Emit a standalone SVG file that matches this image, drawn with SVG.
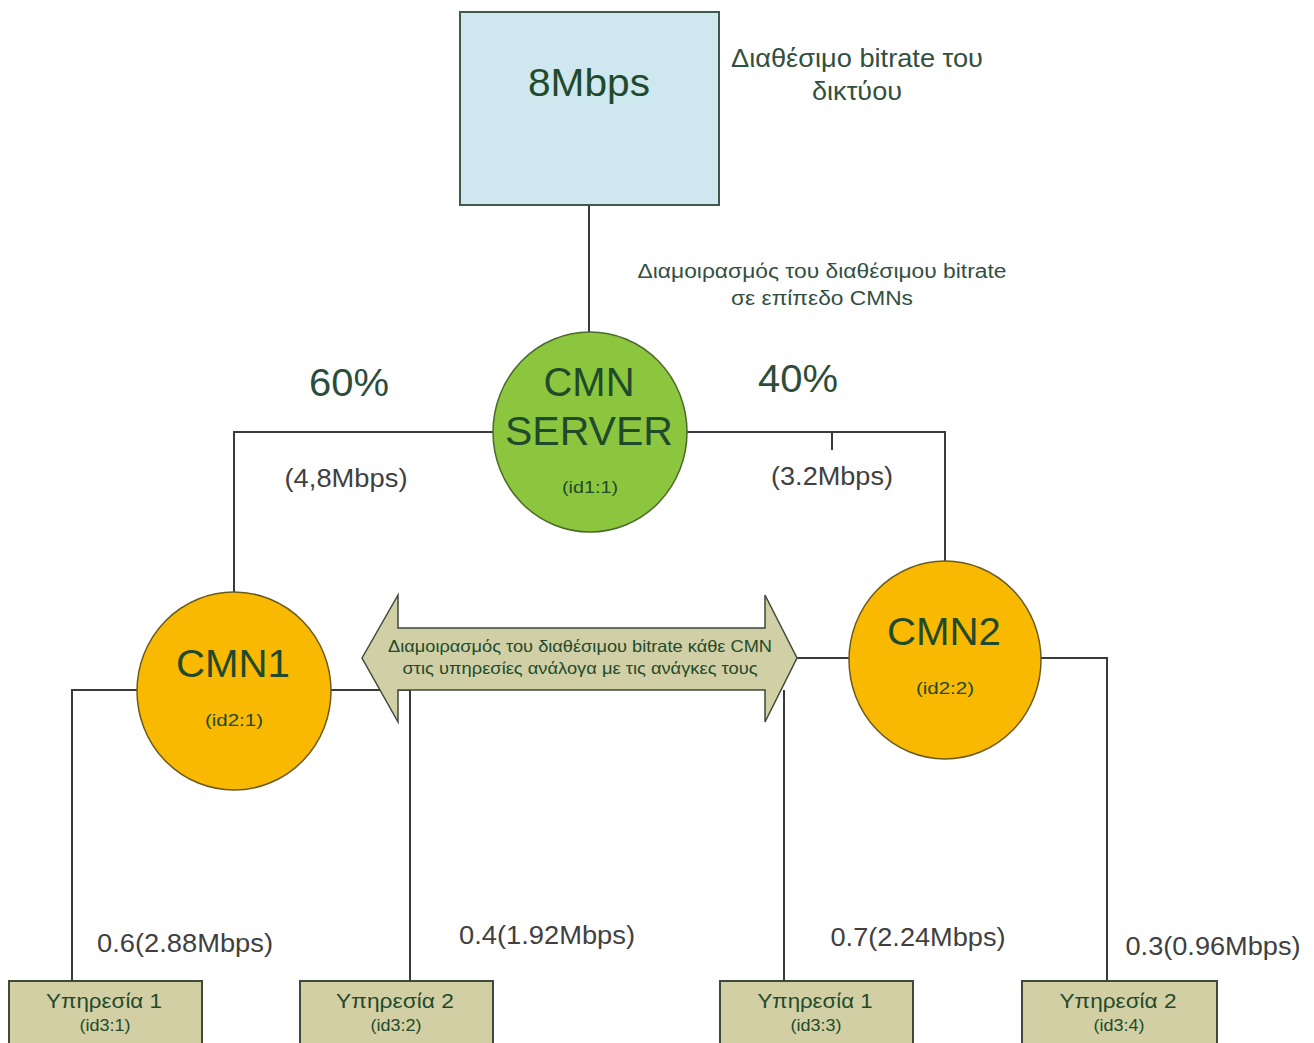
<svg xmlns="http://www.w3.org/2000/svg" width="1314" height="1043" viewBox="0 0 1314 1043">
  <style>
    text { font-family: "Liberation Sans", Arial, sans-serif; text-anchor: middle; }
    .node-text { fill: #1f4a2c; }
    .note { fill: #33503f; }
    .lbl { fill: #404040; }
    .pct { fill: #2b4d3a; }
    .wire { fill: none; stroke: #3a3a3a; stroke-width: 2; }
    .cmn { fill: #f9b900; stroke: #6b5a20; stroke-width: 1.5; }
    .svc { fill: #d3cfa4; stroke: #3f4a3a; stroke-width: 2; }
  </style>

  <rect width="1314" height="1043" fill="#ffffff"/>

  <!-- connectors -->
  <g id="connectors">
    <path class="wire" d="M589 205 V333"/>
    <path class="wire" d="M493 432 H234 V592"/>
    <path class="wire" d="M687 432 H945 V561"/>
    <path class="wire" d="M832 432 V450"/>
    <path class="wire" d="M137 690 H72 V981"/>
    <path class="wire" d="M331 690 H410 V981"/>
    <path class="wire" d="M849 658 H797"/>
    <path class="wire" d="M784 690 V981"/>
    <path class="wire" d="M1041 658 H1107 V981"/>
  </g>

  <!-- available network bitrate -->
  <g id="network">
    <rect x="460" y="12" width="259" height="193" fill="#cfe7ee" stroke="#3f5a4c" stroke-width="2"/>
    <text class="node-text" x="589" y="96" font-size="39" textLength="122" lengthAdjust="spacingAndGlyphs">8Mbps</text>
  </g>
  <g id="network-note">
    <text class="note" x="857" y="67" font-size="26" textLength="252" lengthAdjust="spacingAndGlyphs">Διαθέσιμο bitrate του</text>
    <text class="note" x="857" y="100" font-size="26" textLength="90" lengthAdjust="spacingAndGlyphs">δικτύου</text>
  </g>
  <g id="share-note">
    <text class="note" x="822" y="278" font-size="20" textLength="369" lengthAdjust="spacingAndGlyphs">Διαμοιρασμός του διαθέσιμου bitrate</text>
    <text class="note" x="822" y="305" font-size="20" textLength="182" lengthAdjust="spacingAndGlyphs">σε επίπεδο CMNs</text>
  </g>

  <!-- server -->
  <g id="cmn-server">
    <ellipse cx="590" cy="432" rx="97" ry="100" fill="#8cc63f" stroke="#4a6a2a" stroke-width="1.5"/>
    <text class="node-text" x="589" y="396" font-size="40" textLength="91" lengthAdjust="spacingAndGlyphs">CMN</text>
    <text class="node-text" x="589" y="445" font-size="40" textLength="168" lengthAdjust="spacingAndGlyphs">SERVER</text>
    <text class="node-text" x="590" y="493" font-size="17" textLength="56" lengthAdjust="spacingAndGlyphs">(id1:1)</text>
  </g>

  <g id="split-labels">
    <text class="pct" x="349" y="396" font-size="38" textLength="80" lengthAdjust="spacingAndGlyphs">60%</text>
    <text class="pct" x="798" y="392" font-size="38" textLength="80" lengthAdjust="spacingAndGlyphs">40%</text>
    <text class="lbl" x="346" y="487" font-size="25" textLength="123" lengthAdjust="spacingAndGlyphs">(4,8Mbps)</text>
    <text class="lbl" x="832" y="485" font-size="25" textLength="122" lengthAdjust="spacingAndGlyphs">(3.2Mbps)</text>
  </g>

  <!-- CMN nodes -->
  <g id="cmn1">
    <ellipse class="cmn" cx="234" cy="691" rx="97" ry="99"/>
    <text class="node-text" x="233" y="677" font-size="38" textLength="114" lengthAdjust="spacingAndGlyphs">CMN1</text>
    <text class="node-text" x="234" y="726" font-size="17" textLength="58" lengthAdjust="spacingAndGlyphs">(id2:1)</text>
  </g>
  <g id="cmn2">
    <ellipse class="cmn" cx="945" cy="660" rx="96" ry="99"/>
    <text class="node-text" x="944" y="645" font-size="38" textLength="114" lengthAdjust="spacingAndGlyphs">CMN2</text>
    <text class="node-text" x="945" y="694" font-size="17" textLength="58" lengthAdjust="spacingAndGlyphs">(id2:2)</text>
  </g>

  <!-- double arrow with distribution note -->
  <g id="distribution">
    <path d="M362 658 L398 595 V628 H765 V595 L797 658 L765 722 V690 H398 V722 Z" fill="#d1cfa6" stroke="#3f4a3a" stroke-width="1.5"/>
    <text class="node-text" x="580" y="652" font-size="16.5" textLength="384" lengthAdjust="spacingAndGlyphs">Διαμοιρασμός του διαθέσιμου bitrate κάθε CMN</text>
    <text class="node-text" x="580" y="674" font-size="16.5" textLength="355" lengthAdjust="spacingAndGlyphs">στις υπηρεσίες ανάλογα με τις ανάγκες τους</text>
  </g>

  <!-- service shares -->
  <g id="service-labels">
    <text class="lbl" x="185" y="952" font-size="25" textLength="176" lengthAdjust="spacingAndGlyphs">0.6(2.88Mbps)</text>
    <text class="lbl" x="547" y="944" font-size="25" textLength="176" lengthAdjust="spacingAndGlyphs">0.4(1.92Mbps)</text>
    <text class="lbl" x="918" y="946" font-size="25" textLength="175" lengthAdjust="spacingAndGlyphs">0.7(2.24Mbps)</text>
    <text class="lbl" x="1213" y="955" font-size="25" textLength="175" lengthAdjust="spacingAndGlyphs">0.3(0.96Mbps)</text>
  </g>

  <!-- services -->
  <g id="svc-1">
    <rect class="svc" x="9" y="981" width="193" height="70"/>
    <text class="node-text" x="104" y="1008" font-size="20" textLength="116" lengthAdjust="spacingAndGlyphs">Υπηρεσία 1</text>
    <text class="node-text" x="105" y="1031" font-size="16" textLength="51" lengthAdjust="spacingAndGlyphs">(id3:1)</text>
  </g>
  <g id="svc-2">
    <rect class="svc" x="300" y="981" width="193" height="70"/>
    <text class="node-text" x="395" y="1008" font-size="20" textLength="118" lengthAdjust="spacingAndGlyphs">Υπηρεσία 2</text>
    <text class="node-text" x="396" y="1031" font-size="16" textLength="51" lengthAdjust="spacingAndGlyphs">(id3:2)</text>
  </g>
  <g id="svc-3">
    <rect class="svc" x="720" y="981" width="193" height="70"/>
    <text class="node-text" x="815" y="1008" font-size="20" textLength="115" lengthAdjust="spacingAndGlyphs">Υπηρεσία 1</text>
    <text class="node-text" x="816" y="1031" font-size="16" textLength="51" lengthAdjust="spacingAndGlyphs">(id3:3)</text>
  </g>
  <g id="svc-4">
    <rect class="svc" x="1022" y="981" width="195" height="70"/>
    <text class="node-text" x="1118" y="1008" font-size="20" textLength="117" lengthAdjust="spacingAndGlyphs">Υπηρεσία 2</text>
    <text class="node-text" x="1119" y="1031" font-size="16" textLength="51" lengthAdjust="spacingAndGlyphs">(id3:4)</text>
  </g>
</svg>
